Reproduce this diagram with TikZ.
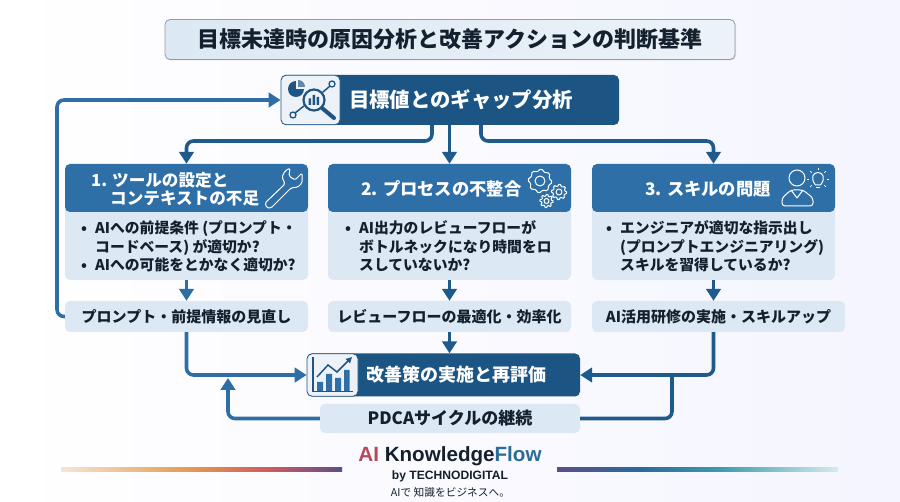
\documentclass[tikz,border=0pt]{standalone}
\usepackage{fontspec}
\setmainfont{Noto Sans CJK JP}
\newfontfamily\logofont{Liberation Sans}
\usetikzlibrary{arrows.meta,calc}
\definecolor{inkC}{HTML}{14202E}
\definecolor{hdC}{HTML}{2F6FA8}
\definecolor{darkC}{HTML}{1C5484}
\definecolor{paleC}{HTML}{DCE8F3}
\definecolor{lnA}{HTML}{2F6EA5}
\definecolor{lnB}{HTML}{1F5A8C}
\definecolor{iconC}{HTML}{1E5585}
\definecolor{iconBg}{HTML}{EDF2F8}
\definecolor{b1}{HTML}{F6E6D4}\definecolor{b2}{HTML}{E49A50}\definecolor{b3}{HTML}{CD5A62}\definecolor{b4}{HTML}{5D4E88}
\definecolor{b5}{HTML}{2B6A9A}\definecolor{b6}{HTML}{3F9BAA}\definecolor{b7}{HTML}{D5EBEE}
\tikzset{
  x=1pt,y=-1pt,
  boxbase/.style={inner sep=0pt,rounded corners=5pt,align=center},
  titlebox/.style={boxbase,draw=black!25!blue!15!gray!70,line width=.8pt,left color=paleC,right color=paleC!55!white,minimum width=570pt,minimum height=40pt,text=inkC,font=\fontsize{22}{26}\selectfont\bfseries},
  darkbox/.style={boxbase,fill=darkC,text=white,font=\fontsize{20.4}{24}\selectfont\bfseries},
  headbox/.style={boxbase,fill=hdC,minimum width=243pt,minimum height=48pt},
  headtext/.style={inner sep=0pt,anchor=west,align=left,text=white,font=\fontsize{16.6}{18.5}\selectfont\bfseries},
  bodybox/.style={boxbase,fill=paleC,minimum width=243pt,minimum height=76pt},
  bodytext/.style={inner sep=0pt,anchor=west,align=left,text=inkC,font=\fontsize{14.8}{18.5}\selectfont\bfseries},
  resbox/.style={boxbase,fill=paleC,minimum height=31pt,text=inkC,font=\fontsize{15}{18}\selectfont\bfseries},
  iconbox/.style={boxbase,draw=darkC,line width=.8pt,fill=iconBg},
  conA/.style={draw=lnA,line width=3.6pt,rounded corners=7pt},
  conB/.style={draw=lnB,line width=3.6pt,rounded corners=7pt},
  tipA/.style={-{Triangle[width=14.5pt,length=12pt]}},
  icW/.style={draw=white,line width=1pt,line join=round},
  icD/.style={draw=iconC,line width=1.5pt,line cap=round},
}
\newcommand{\gearicon}[4]{\draw[icW] plot[domain=0:360,samples=#4*4+1] ({#1+(#3+1.6*(sin(#4*\x+1)>0))*cos(\x)},{#2+(#3+1.6*(sin(#4*\x+1)>0))*sin(\x)})--cycle; \draw[icW] (#1,#2) circle ({#3*.5});}
\begin{document}
\begin{tikzpicture}
\useasboundingbox (0,0) rectangle (900,502);
\shade[left color=white,right color=black!4!blue!4!white] (0,0) rectangle (900,502);
% title
\fill[black!30!white,opacity=.35,rounded corners=5pt] (166,21) rectangle (736,60.5);
\node[titlebox] (title) at (450,39.5) {目標未達時の原因分析と改善アクションの判断基準};
% top box
\node[darkbox,minimum width=338pt,minimum height=50pt] (top) at (450,100) {\makebox[338pt][l]{\hspace{68pt}目標値とのギャップ分析}};
\node[iconbox,minimum width=59pt,minimum height=49.5pt] (topicon) at (310.5,100) {};
% top icon
\fill[iconC] (296,89) circle (8);
\fill[iconBg] (296,89) -- (296,80) -- (305,80) -- (305,89) -- cycle;
\fill[iconC!70!white] (298,87) -- (298,80) .. controls (302,80) and (305,83) .. (305,87) -- cycle;
\draw[icD] (323,92) -- (330,86);
\draw[icD] (295,113) -- (304,106);
\draw[iconC,line width=1.3pt] (332,84) circle (3);
\draw[iconC,line width=1.3pt] (293,115) circle (3);
\fill[iconBg] (314,100) circle (10.5);
\draw[iconC,line width=2.2pt] (314,100) circle (10.5);
\draw[iconC,line width=4pt,line cap=round] (322,108) -- (334,118);
\fill[iconC] (308.5,98.5) rectangle (311,105) (312.5,95) rectangle (315,105) (316.5,97) rectangle (319,105);
% columns
\node[bodybox] (bodyA) at (186.5,242) {};
\node[bodybox] (bodyB) at (449.5,242) {};
\node[bodybox] (bodyC) at (713.5,242) {};
\node[headbox] (headA) at (186.5,188) {};
\node[headbox] (headB) at (449.5,188) {};
\node[headbox] (headC) at (713.5,188) {};
\node[headtext] (headAt) at (91,189) {1. ツールの設定と\\\hspace*{19pt}コンテキストの不足};
\node[headtext,font=\fontsize{17.3}{20}\selectfont\bfseries] (headBt) at (361,189) {2. プロセスの不整合};
\node[headtext,font=\fontsize{17.3}{20}\selectfont\bfseries] (headCt) at (645,189) {3. スキルの問題};
\node[bodytext] (bodyAt) at (81,246.5) {\makebox[14pt][l]{•}AIへの前提条件 (プロンプト・\\\hspace*{14pt}コードベース) が適切か?\\\makebox[14pt][l]{•}AIへの可能をとかなく適切か?};
\node[bodytext] (bodyBt) at (345,246.5) {\makebox[14pt][l]{•}AI出力のレビューフローが\\\hspace*{14pt}ボトルネックになり時間をロ\\\hspace*{14pt}スしていないか?};
\node[bodytext] (bodyCt) at (606,246.5) {\makebox[14pt][l]{•}エンジニアが適切な指示出し\\\hspace*{14pt}(プロンプトエンジニアリング)\\\hspace*{14pt}スキルを習得しているか?};
\node[resbox,minimum width=243pt] (resA) at (186.5,316.5) {プロンプト・前提情報の見直し};
\node[resbox,minimum width=243pt] (resB) at (449.5,316.5) {レビューフローの最適化・効率化};
\node[resbox,minimum width=253pt] (resC) at (718.5,316.5) {AI活用研修の実施・スキルアップ};
% wrench
\draw[icW,rounded corners=1.5pt] (265,203) -- (285,184) -- (282,177) -- (285,171) -- (290,168) -- (289,176) -- (295,180) -- (302,173) -- (302,183) -- (298,187) -- (291,188) -- (271,208) -- (267,208) -- cycle;
% gears
\gearicon{540}{181}{10}{8}
\gearicon{559}{192}{6}{8}
\gearicon{546.5}{201}{5}{8}
% person and bulb
\draw[icW] (797,178) circle (8);
\draw[icW,rounded corners=3pt] (782,206) -- (782,198) -- (791,190) -- (803,190) -- (813,198) -- (813,206) -- cycle;
\draw[icW] (791,190) -- (797,198) -- (803,190);
\draw[icW] (815.5,185) .. controls (810,178) and (813,172.5) .. (818,172.5) .. controls (823,172.5) and (826,178) .. (820.5,185) -- cycle;
\draw[white,line width=1pt] (816,188) -- (820,188);
\foreach \a in {0,45,135,180,225,315,270}{\draw[white,line width=.7pt] ($(818,179)+(\a:9)$) -- ($(818,179)+(\a:11)$);}
% bottom boxes
\node[darkbox,font=\fontsize{18}{22}\selectfont\bfseries,minimum width=273pt,minimum height=43pt] (imp) at (443.5,375) {\makebox[273pt][l]{\hspace{59pt}改善策の実施と再評価}};
\node[iconbox,minimum width=51pt,minimum height=42.5pt] (impicon) at (332.5,375) {};
\draw[iconC,line width=1.1pt] (313,357) -- (313,391.5) -- (353,391.5);
\fill[hdC] (317,382) rectangle (323,391) (326,374) rectangle (332,391) (335,378) rectangle (341,391) (344,370) rectangle (349.5,391);
\draw[iconC,line width=1.5pt,-{Triangle[width=6pt,length=6pt]}] (317,377) -- (328,365) -- (337,372) -- (352,357);
\node[resbox,font=\fontsize{17}{20}\selectfont\bfseries,minimum width=260pt,minimum height=29pt] (pdca) at (450,418.5) {PDCAサイクルの継続};
% helper positions
\coordinate (xL) at (57,0);
\coordinate (xA) at (432,0);
\coordinate (xC) at (481,0);
\coordinate (ymid) at (0,141);
\coordinate (tipP) at (228,378);
\coordinate (xQ) at (672,0);
% connectors
\draw[conA,tipA] (resA.west) -- (resA.west -| xL) -- (topicon.west -| xL) -- (topicon.west);
\draw[conB,tipA] (top.south -| xA) -- (ymid -| xA) -- (ymid -| headA.north) -- (headA.north);
\draw[conB,tipA] (top.south -| headB.north) -- (headB.north);
\draw[conB,tipA] (top.south -| xC) -- (ymid -| xC) -- (ymid -| headC.north) -- (headC.north);
\draw[conA,tipA] (bodyA.south) -- (resA.north);
\draw[conB,tipA] (bodyB.south) -- (resB.north);
\draw[conB,tipA] (bodyC.south) -- (resC.north -| bodyC.south);
\draw[conA,tipA] (resA.south) |- (impicon.west);
\draw[conB,tipA] (resB.south) -- (imp.north -| resB.south);
\draw[conB,tipA] (resC.south -| bodyC.south) |- (imp.east);
\draw[conA,tipA] (pdca.west) -| (tipP);
\draw[conB] (pdca.east) -| (xQ |- imp.east);
% logo
\node[inner sep=0pt,font=\logofont\fontsize{20.6}{24}\selectfont\bfseries] (logo) at (450,456.5) {\textcolor[HTML]{B5485A}{AI} \textcolor{inkC}{Knowledge}\textcolor[HTML]{2A6C96}{Flow}};
\node[inner sep=0pt,text=inkC,font=\logofont\fontsize{12.1}{15}\selectfont\bfseries] (by) at (450,476.5) {by TECHNODIGITAL};
\node[inner sep=0pt,text=inkC,font=\fontsize{10.7}{13}\selectfont] (tag) at (450.5,492.5) {AIで 知識をビジネスへ。};
% bars
\fill[left color=b1,right color=b2] (61,468) rectangle (190,472);
\fill[left color=b2,right color=b3] (190,468) rectangle (270,472);
\fill[left color=b3,right color=b4] (270,468) rectangle (342,472);
\fill[left color=b4,right color=b5] (557,468) rectangle (640,472);
\fill[left color=b5,right color=b6] (640,468) rectangle (720,472);
\fill[left color=b6,right color=b7] (720,468) rectangle (838,472);
\end{tikzpicture}
\end{document}
